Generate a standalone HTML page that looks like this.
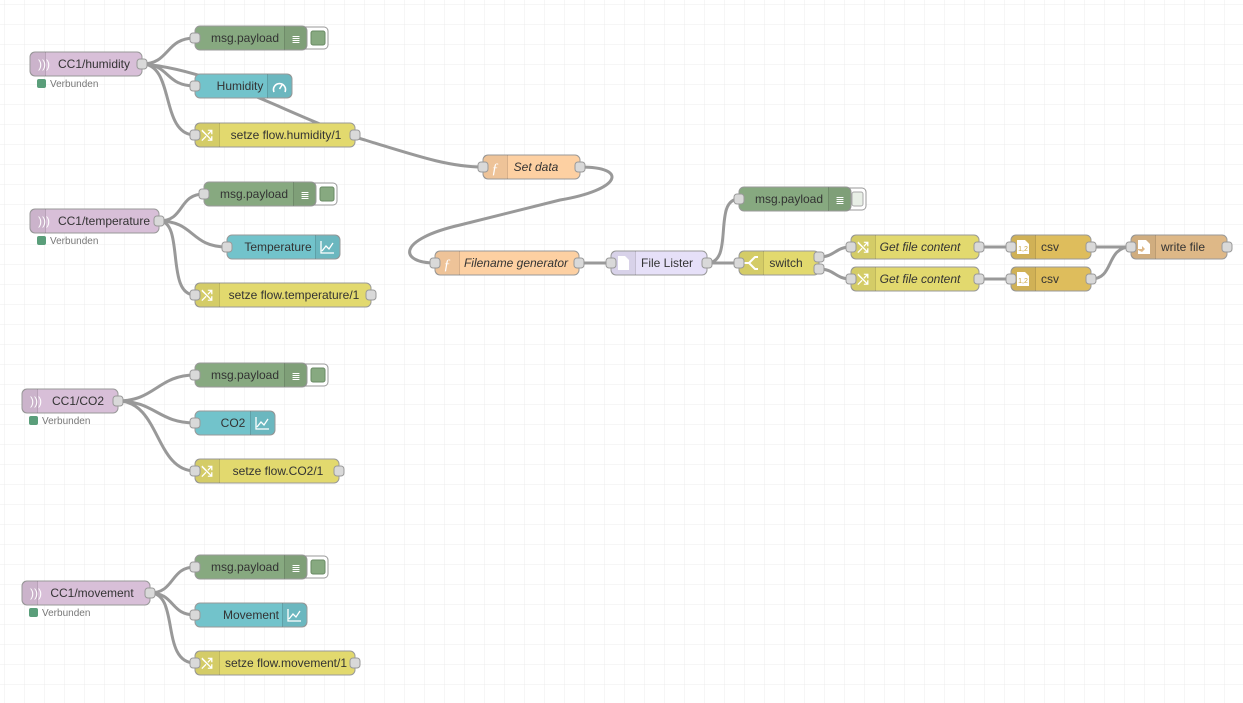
<!DOCTYPE html>
<html><head><meta charset="utf-8"><style>
html,body{margin:0;padding:0;background:#fff}
svg{display:block}
text{font-family:"Liberation Sans",sans-serif;font-size:12px;fill:#333}
.w{fill:none;stroke:#999;stroke-width:3}
.n{stroke:#999;stroke-width:1}
.p{fill:#d9d9d9;stroke:#999;stroke-width:1}
.ic{fill:rgba(0,0,0,0.06)}
.sep{stroke:rgba(0,0,0,0.12);stroke-width:1}
.st{font-size:10px;fill:#777}
.it{font-style:italic}
</style></head><body>
<svg width="1243" height="703" xmlns="http://www.w3.org/2000/svg">
<defs>
<pattern id="g" width="20" height="20" patternUnits="userSpaceOnUse" x="4" y="4">
<path d="M20 0 L0 0 0 20" fill="none" stroke="#ececec" stroke-width="1"/>
</pattern>
</defs>
<rect width="1243" height="703" fill="url(#g)"/>

<!-- wires -->
<g class="w">
<path d="M142,64 C170,64 165,38 195,38"/>
<path d="M142,64 C170,64 165,86 195,86"/>
<path d="M142,64 C175,64 160,135 195,135"/>
<path d="M142,64 C220,70 300,122 365,140 C420,157 450,167 483,167"/>
<path d="M580,167 C630,167 620,190 560,200 L460,225 C395,240 400,263 435,263"/>
<path d="M159,221 C185,221 178,194 204,194"/>
<path d="M159,221 C195,221 190,247 227,247"/>
<path d="M159,221 C185,221 165,295 195,295"/>
<path d="M118,401 C155,401 158,375 195,375"/>
<path d="M118,401 C155,401 158,423 195,423"/>
<path d="M118,401 C160,401 155,471 195,471"/>
<path d="M150,593 C175,593 170,567 195,567"/>
<path d="M150,593 C175,593 170,615 195,615"/>
<path d="M150,593 C180,593 160,663 195,663"/>
<path d="M579,263 L611,263"/>
<path d="M707,263 C735,263 712,199 739,199"/>
<path d="M707,263 L739,263"/>
<path d="M819,257 C835,257 835,247 851,247"/>
<path d="M819,269 C835,269 835,279 851,279"/>
<path d="M979,247 L1011,247"/>
<path d="M979,279 L1011,279"/>
<path d="M1091,247 L1131,247"/>
<path d="M1091,279 C1115,279 1105,247 1131,247"/>
</g>

<!-- MQTT nodes -->
<g>
<rect class="n" x="30" y="52" width="112" height="24" rx="5" fill="#d8bfd8"/>
<rect class="ic" x="30.5" y="52.5" width="15" height="23"/><line class="sep" x1="45.5" y1="52" x2="45.5" y2="76"/>
<text x="38" y="68" style="fill:#fff">)))</text>
<text x="94" y="68" text-anchor="middle">CC1/humidity</text>
<rect class="p" x="137" y="59" width="10" height="10" rx="3"/>
<rect x="37" y="79" width="9" height="9" rx="2" fill="#5a9e7a"/><text class="st" x="50" y="87">Verbunden</text>

<rect class="n" x="30" y="209" width="129" height="24" rx="5" fill="#d8bfd8"/>
<rect class="ic" x="30.5" y="209.5" width="15" height="23"/><line class="sep" x1="45.5" y1="209" x2="45.5" y2="233"/>
<text x="38" y="225" style="fill:#fff">)))</text>
<text x="104" y="225" text-anchor="middle">CC1/temperature</text>
<rect class="p" x="154" y="216" width="10" height="10" rx="3"/>
<rect x="37" y="236" width="9" height="9" rx="2" fill="#5a9e7a"/><text class="st" x="50" y="244">Verbunden</text>

<rect class="n" x="22" y="389" width="96" height="24" rx="5" fill="#d8bfd8"/>
<rect class="ic" x="22.5" y="389.5" width="15" height="23"/><line class="sep" x1="37.5" y1="389" x2="37.5" y2="413"/>
<text x="30" y="405" style="fill:#fff">)))</text>
<text x="78" y="405" text-anchor="middle">CC1/CO2</text>
<rect class="p" x="113" y="396" width="10" height="10" rx="3"/>
<rect x="29" y="416" width="9" height="9" rx="2" fill="#5a9e7a"/><text class="st" x="42" y="424">Verbunden</text>

<rect class="n" x="22" y="581" width="128" height="24" rx="5" fill="#d8bfd8"/>
<rect class="ic" x="22.5" y="581.5" width="15" height="23"/><line class="sep" x1="37.5" y1="581" x2="37.5" y2="605"/>
<text x="30" y="597" style="fill:#fff">)))</text>
<text x="92" y="597" text-anchor="middle">CC1/movement</text>
<rect class="p" x="145" y="588" width="10" height="10" rx="3"/>
<rect x="29" y="608" width="9" height="9" rx="2" fill="#5a9e7a"/><text class="st" x="42" y="616">Verbunden</text>
</g>

<!-- debug nodes -->
<g>
<rect x="300" y="27" width="28" height="22" rx="4" fill="#fff" stroke="#999"/><rect x="311" y="31" width="14" height="14" rx="2" fill="#87a980" stroke="#6a8a64"/>
<rect class="n" x="195" y="26" width="112" height="24" rx="5" fill="#87a980"/>
<rect class="ic" x="284" y="26.5" width="22.5" height="23"/><line class="sep" x1="284.5" y1="26" x2="284.5" y2="50"/>
<text x="296" y="43" text-anchor="middle" style="fill:#fff;font-size:11px">≣</text>
<text x="245" y="42" text-anchor="middle">msg.payload</text>
<rect class="p" x="190" y="33" width="10" height="10" rx="3"/>

<rect x="309" y="183" width="28" height="22" rx="4" fill="#fff" stroke="#999"/><rect x="320" y="187" width="14" height="14" rx="2" fill="#87a980" stroke="#6a8a64"/>
<rect class="n" x="204" y="182" width="112" height="24" rx="5" fill="#87a980"/>
<rect class="ic" x="293" y="182.5" width="22.5" height="23"/><line class="sep" x1="293.5" y1="182" x2="293.5" y2="206"/>
<text x="305" y="199" text-anchor="middle" style="fill:#fff;font-size:11px">≣</text>
<text x="254" y="198" text-anchor="middle">msg.payload</text>
<rect class="p" x="199" y="189" width="10" height="10" rx="3"/>

<rect x="300" y="364" width="28" height="22" rx="4" fill="#fff" stroke="#999"/><rect x="311" y="368" width="14" height="14" rx="2" fill="#87a980" stroke="#6a8a64"/>
<rect class="n" x="195" y="363" width="112" height="24" rx="5" fill="#87a980"/>
<rect class="ic" x="284" y="363.5" width="22.5" height="23"/><line class="sep" x1="284.5" y1="363" x2="284.5" y2="387"/>
<text x="296" y="380" text-anchor="middle" style="fill:#fff;font-size:11px">≣</text>
<text x="245" y="379" text-anchor="middle">msg.payload</text>
<rect class="p" x="190" y="370" width="10" height="10" rx="3"/>

<rect x="300" y="556" width="28" height="22" rx="4" fill="#fff" stroke="#999"/><rect x="311" y="560" width="14" height="14" rx="2" fill="#87a980" stroke="#6a8a64"/>
<rect class="n" x="195" y="555" width="112" height="24" rx="5" fill="#87a980"/>
<rect class="ic" x="284" y="555.5" width="22.5" height="23"/><line class="sep" x1="284.5" y1="555" x2="284.5" y2="579"/>
<text x="296" y="572" text-anchor="middle" style="fill:#fff;font-size:11px">≣</text>
<text x="245" y="571" text-anchor="middle">msg.payload</text>
<rect class="p" x="190" y="562" width="10" height="10" rx="3"/>

<rect x="844" y="188" width="22" height="22" rx="4" fill="#fff" stroke="#999"/><rect x="852" y="192" width="11" height="14" rx="2" fill="#e8efe6" stroke="#aaa"/>
<rect class="n" x="739" y="187" width="112" height="24" rx="5" fill="#87a980"/>
<rect class="ic" x="828" y="187.5" width="22.5" height="23"/><line class="sep" x1="828.5" y1="187" x2="828.5" y2="211"/>
<text x="840" y="204" text-anchor="middle" style="fill:#fff;font-size:11px">≣</text>
<text x="789" y="203" text-anchor="middle">msg.payload</text>
<rect class="p" x="734" y="194" width="10" height="10" rx="3"/>
</g>

<!-- ui nodes -->
<g>
<rect class="n" x="195" y="74" width="97" height="24" rx="5" fill="#72c3cb"/>
<rect class="ic" x="267" y="74.5" width="24.5" height="23"/><line class="sep" x1="267.5" y1="74" x2="267.5" y2="98"/>
<path d="M274,92 A6,6 0 1 1 285,92" fill="none" stroke="#fff" stroke-width="1.6"/><line x1="279.5" y1="89" x2="282" y2="85" stroke="#fff" stroke-width="1.5"/>
<text x="240" y="90" text-anchor="middle">Humidity</text>
<rect class="p" x="190" y="81" width="10" height="10" rx="3"/>

<rect class="n" x="227" y="235" width="113" height="24" rx="5" fill="#72c3cb"/>
<rect class="ic" x="315" y="235.5" width="24.5" height="23"/><line class="sep" x1="315.5" y1="235" x2="315.5" y2="259"/>
<path d="M321,241 V253 H334 M322,251 L326,246 L329,249 L333,243" fill="none" stroke="#fff" stroke-width="1.3"/>
<text x="278" y="251" text-anchor="middle">Temperature</text>
<rect class="p" x="222" y="242" width="10" height="10" rx="3"/>

<rect class="n" x="195" y="411" width="80" height="24" rx="5" fill="#72c3cb"/>
<rect class="ic" x="250" y="411.5" width="24.5" height="23"/><line class="sep" x1="250.5" y1="411" x2="250.5" y2="435"/>
<path d="M256,417 V429 H269 M257,427 L261,422 L264,425 L268,419" fill="none" stroke="#fff" stroke-width="1.3"/>
<text x="233" y="427" text-anchor="middle">CO2</text>
<rect class="p" x="190" y="418" width="10" height="10" rx="3"/>

<rect class="n" x="195" y="603" width="112" height="24" rx="5" fill="#72c3cb"/>
<rect class="ic" x="282" y="603.5" width="24.5" height="23"/><line class="sep" x1="282.5" y1="603" x2="282.5" y2="627"/>
<path d="M288,609 V621 H301 M289,619 L293,614 L296,617 L300,611" fill="none" stroke="#fff" stroke-width="1.3"/>
<text x="251" y="619" text-anchor="middle">Movement</text>
<rect class="p" x="190" y="610" width="10" height="10" rx="3"/>
</g>

<!-- change nodes -->
<g>
<rect class="n" x="195" y="123" width="160" height="24" rx="5" fill="#e2d96e"/>
<rect class="ic" x="195.5" y="123.5" width="24" height="23"/><line class="sep" x1="219.5" y1="123" x2="219.5" y2="147"/>
<text x="207" y="140" text-anchor="middle" style="fill:#fff;font-size:14px;font-weight:bold">⤭</text>
<text x="286" y="139" text-anchor="middle">setze flow.humidity/1</text>
<rect class="p" x="190" y="130" width="10" height="10" rx="3"/><rect class="p" x="350" y="130" width="10" height="10" rx="3"/>

<rect class="n" x="195" y="283" width="176" height="24" rx="5" fill="#e2d96e"/>
<rect class="ic" x="195.5" y="283.5" width="24" height="23"/><line class="sep" x1="219.5" y1="283" x2="219.5" y2="307"/>
<text x="207" y="300" text-anchor="middle" style="fill:#fff;font-size:14px;font-weight:bold">⤭</text>
<text x="294" y="299" text-anchor="middle">setze flow.temperature/1</text>
<rect class="p" x="190" y="290" width="10" height="10" rx="3"/><rect class="p" x="366" y="290" width="10" height="10" rx="3"/>

<rect class="n" x="195" y="459" width="144" height="24" rx="5" fill="#e2d96e"/>
<rect class="ic" x="195.5" y="459.5" width="24" height="23"/><line class="sep" x1="219.5" y1="459" x2="219.5" y2="483"/>
<text x="207" y="476" text-anchor="middle" style="fill:#fff;font-size:14px;font-weight:bold">⤭</text>
<text x="278" y="475" text-anchor="middle">setze flow.CO2/1</text>
<rect class="p" x="190" y="466" width="10" height="10" rx="3"/><rect class="p" x="334" y="466" width="10" height="10" rx="3"/>

<rect class="n" x="195" y="651" width="160" height="24" rx="5" fill="#e2d96e"/>
<rect class="ic" x="195.5" y="651.5" width="24" height="23"/><line class="sep" x1="219.5" y1="651" x2="219.5" y2="675"/>
<text x="207" y="668" text-anchor="middle" style="fill:#fff;font-size:14px;font-weight:bold">⤭</text>
<text x="286" y="667" text-anchor="middle">setze flow.movement/1</text>
<rect class="p" x="190" y="658" width="10" height="10" rx="3"/><rect class="p" x="350" y="658" width="10" height="10" rx="3"/>

<rect class="n" x="851" y="235" width="128" height="24" rx="5" fill="#e2d96e"/>
<rect class="ic" x="851.5" y="235.5" width="24" height="23"/><line class="sep" x1="875.5" y1="235" x2="875.5" y2="259"/>
<text x="863" y="252" text-anchor="middle" style="fill:#fff;font-size:14px;font-weight:bold">⤭</text>
<text class="it" x="920" y="251" text-anchor="middle">Get file content</text>
<rect class="p" x="846" y="242" width="10" height="10" rx="3"/><rect class="p" x="974" y="242" width="10" height="10" rx="3"/>

<rect class="n" x="851" y="267" width="128" height="24" rx="5" fill="#e2d96e"/>
<rect class="ic" x="851.5" y="267.5" width="24" height="23"/><line class="sep" x1="875.5" y1="267" x2="875.5" y2="291"/>
<text x="863" y="284" text-anchor="middle" style="fill:#fff;font-size:14px;font-weight:bold">⤭</text>
<text class="it" x="920" y="283" text-anchor="middle">Get file content</text>
<rect class="p" x="846" y="274" width="10" height="10" rx="3"/><rect class="p" x="974" y="274" width="10" height="10" rx="3"/>
</g>

<!-- function nodes -->
<g>
<rect class="n" x="483" y="155" width="97" height="24" rx="5" fill="#fdd0a2"/>
<rect class="ic" x="483.5" y="155.5" width="24" height="23"/><line class="sep" x1="507.5" y1="155" x2="507.5" y2="179"/>
<text x="495" y="173" text-anchor="middle" style="fill:#fff;font-size:15px;font-style:italic;font-family:'Liberation Serif',serif">ƒ</text>
<text class="it" x="536" y="171" text-anchor="middle">Set data</text>
<rect class="p" x="478" y="162" width="10" height="10" rx="3"/><rect class="p" x="575" y="162" width="10" height="10" rx="3"/>

<rect class="n" x="435" y="251" width="144" height="24" rx="5" fill="#fdd0a2"/>
<rect class="ic" x="435.5" y="251.5" width="24" height="23"/><line class="sep" x1="459.5" y1="251" x2="459.5" y2="275"/>
<text x="447" y="269" text-anchor="middle" style="fill:#fff;font-size:15px;font-style:italic;font-family:'Liberation Serif',serif">ƒ</text>
<text class="it" x="516" y="267" text-anchor="middle">Filename generator</text>
<rect class="p" x="430" y="258" width="10" height="10" rx="3"/><rect class="p" x="574" y="258" width="10" height="10" rx="3"/>
</g>

<!-- file lister -->
<rect class="n" x="611" y="251" width="96" height="24" rx="5" fill="#e6e0f8"/>
<rect class="ic" x="611.5" y="251.5" width="24" height="23"/><line class="sep" x1="635.5" y1="251" x2="635.5" y2="275"/>
<path d="M618,256 H625 L629,260 V270 H618 Z" fill="#fff"/>
<text x="667" y="267" text-anchor="middle">File Lister</text>
<rect class="p" x="606" y="258" width="10" height="10" rx="3"/><rect class="p" x="702" y="258" width="10" height="10" rx="3"/>

<!-- switch -->
<rect class="n" x="739" y="251" width="80" height="24" rx="5" fill="#e2d96e"/>
<rect class="ic" x="739.5" y="251.5" width="24" height="23"/><line class="sep" x1="763.5" y1="251" x2="763.5" y2="275"/>
<path d="M744,263 H749 M749,263 L755,257 H758 M749,263 L755,269 H758" fill="none" stroke="#fff" stroke-width="2"/>
<text x="786" y="267" text-anchor="middle">switch</text>
<rect class="p" x="734" y="258" width="10" height="10" rx="3"/>
<rect class="p" x="814" y="252" width="10" height="10" rx="3"/><rect class="p" x="814" y="264" width="10" height="10" rx="3"/>

<!-- csv -->
<g>
<rect class="n" x="1011" y="235" width="80" height="24" rx="5" fill="#debd5c"/>
<rect class="ic" x="1011.5" y="235.5" width="24" height="23"/><line class="sep" x1="1035.5" y1="235" x2="1035.5" y2="259"/>
<path d="M1017,240 H1025 L1029,244 V254 H1017 Z" fill="#fff"/><text x="1023" y="251" text-anchor="middle" style="font-size:7px;fill:#c9a540">1,2</text>
<text x="1050" y="251" text-anchor="middle">csv</text>
<rect class="p" x="1006" y="242" width="10" height="10" rx="3"/><rect class="p" x="1086" y="242" width="10" height="10" rx="3"/>

<rect class="n" x="1011" y="267" width="80" height="24" rx="5" fill="#debd5c"/>
<rect class="ic" x="1011.5" y="267.5" width="24" height="23"/><line class="sep" x1="1035.5" y1="267" x2="1035.5" y2="291"/>
<path d="M1017,272 H1025 L1029,276 V286 H1017 Z" fill="#fff"/><text x="1023" y="283" text-anchor="middle" style="font-size:7px;fill:#c9a540">1,2</text>
<text x="1050" y="283" text-anchor="middle">csv</text>
<rect class="p" x="1006" y="274" width="10" height="10" rx="3"/><rect class="p" x="1086" y="274" width="10" height="10" rx="3"/>
</g>

<!-- write file -->
<rect class="n" x="1131" y="235" width="96" height="24" rx="5" fill="#deb887"/>
<rect class="ic" x="1131.5" y="235.5" width="24" height="23"/><line class="sep" x1="1155.5" y1="235" x2="1155.5" y2="259"/>
<path d="M1138,240 H1146 L1150,244 V254 H1138 Z" fill="#fff"/><path d="M1136,249 H1142 L1142,246 L1145,249 L1142,252 Z" fill="#deb887"/>
<text x="1183" y="251" text-anchor="middle">write file</text>
<rect class="p" x="1126" y="242" width="10" height="10" rx="3"/><rect class="p" x="1222" y="242" width="10" height="10" rx="3"/>
</svg>
</body></html>
